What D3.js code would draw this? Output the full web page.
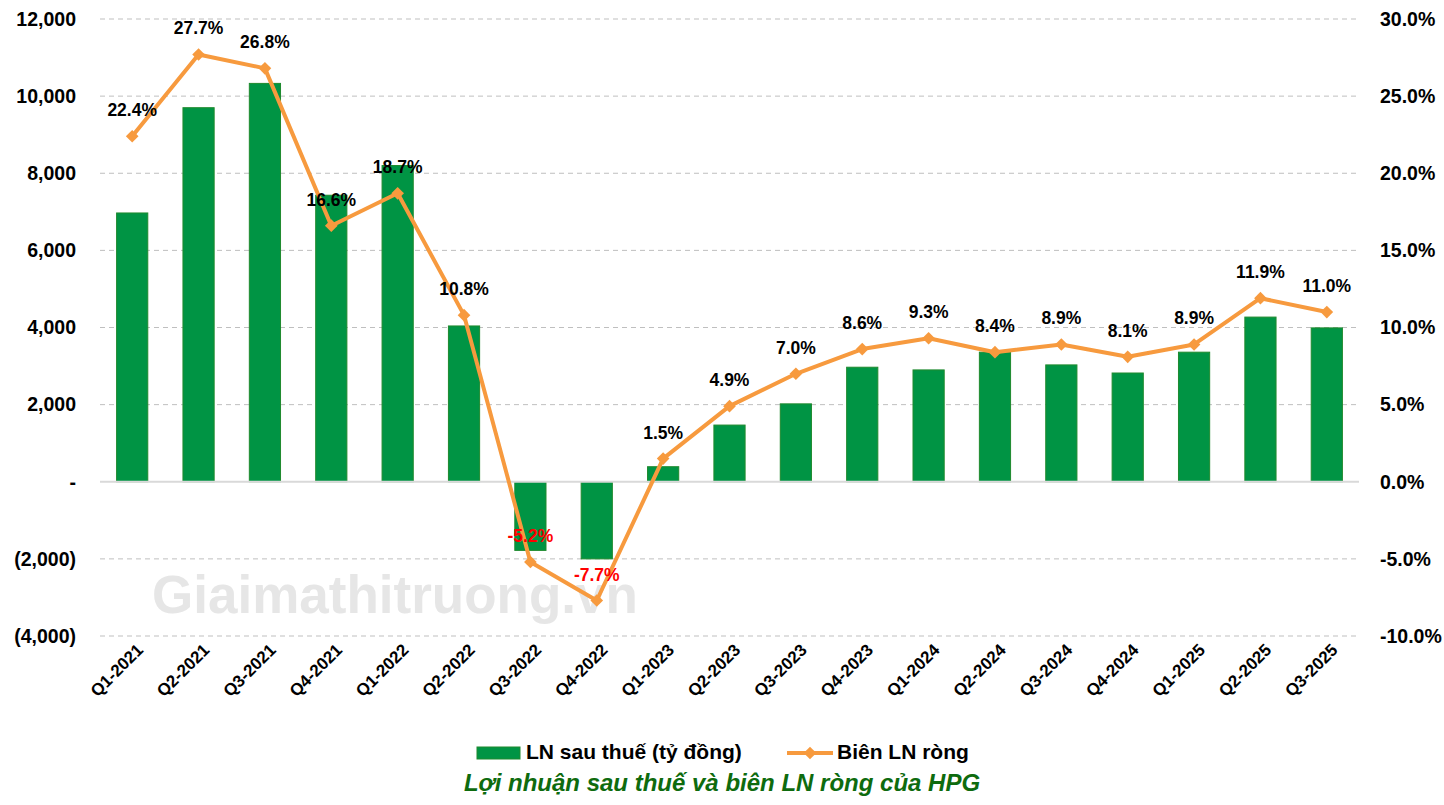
<!DOCTYPE html>
<html lang="vi">
<head>
<meta charset="utf-8" />
<title>HPG</title>
<script src="https://cdnjs.cloudflare.com/ajax/libs/d3/7.8.5/d3.min.js"></script>
<style>
  body { margin: 0; background: #fff; }
  svg text { font-family: "Liberation Sans", Arial, sans-serif; }
</style>
</head>
<body>
<div id="chart"></div>
<script>
// data
var quarters = ["Q1-2021","Q2-2021","Q3-2021","Q4-2021","Q1-2022","Q2-2022","Q3-2022","Q4-2022",
  "Q1-2023","Q2-2023","Q3-2023","Q4-2023","Q1-2024","Q2-2024","Q3-2024","Q4-2024","Q1-2025","Q2-2025","Q3-2025"];
var profit = [6970, 9700, 10330, 7430, 8200, 4040, -1780, -2000, 390, 1470, 2020, 2970, 2900, 3360, 3030, 2820, 3360, 4270, 3990];
var margin = [22.4, 27.7, 26.8, 16.6, 18.7, 10.8, -5.2, -7.7, 1.5, 4.9, 7.0, 8.6, 9.3, 8.4, 8.9, 8.1, 8.9, 11.9, 11.0];
var leftTicks = [-4000, -2000, 0, 2000, 4000, 6000, 8000, 10000, 12000];
var rightTicks = [-10, -5, 0, 5, 10, 15, 20, 25, 30];

var W = 1444, H = 805;
var m = {top: 19, right: 85, bottom: 169, left: 100};
var width = W - m.left - m.right, height = H - m.top - m.bottom;

var svg = d3.select("#chart").append("svg").attr("width", W).attr("height", H);
var g = svg.append("g").attr("transform", "translate(" + m.left + "," + m.top + ")");

var x = d3.scaleBand().domain(quarters).range([0, width]).paddingInner(0.53).paddingOuter(0.25);
var y = d3.scaleLinear().domain([-4000, 12000]).range([height, 0]);
var y2 = d3.scaleLinear().domain([-10, 30]).range([height, 0]);

// watermark
g.append("text")
  .attr("x", 52).attr("y", y(-3000) + 16)
  .attr("font-size", 53).attr("font-weight", "bold")
  .attr("fill", "#e6e6e6")
  .text("Giaimathitruong.vn");

// grid
g.selectAll(".grid").data(leftTicks.filter(function(d){ return d !== 0; }))
  .enter().append("line")
  .attr("x1", 0).attr("x2", width)
  .attr("y1", function(d){ return y(d); }).attr("y2", function(d){ return y(d); })
  .attr("stroke", "#bfbfbf").attr("stroke-dasharray", "5,4").attr("stroke-width", 1);

// bars
g.selectAll(".bar").data(profit).enter().append("rect")
  .attr("x", function(d, i){ return x(quarters[i]); })
  .attr("width", x.bandwidth())
  .attr("y", function(d){ return y(Math.max(0, d)); })
  .attr("height", function(d){ return Math.abs(y(d) - y(0)); })
  .attr("fill", "#009444").attr("stroke", "#1f8a2e").attr("stroke-width", 1);

// zero line
g.append("line").attr("x1", 0).attr("x2", width).attr("y1", y(0)).attr("y2", y(0))
  .attr("stroke", "#d9d9d9").attr("stroke-width", 2);

// left axis
var yAxis = d3.axisLeft(y).tickValues(leftTicks).tickSize(0).tickPadding(24)
  .tickFormat(function(d){
    if (d === 0) return "-";
    var s = d3.format(",")(Math.abs(d));
    return d < 0 ? "(" + s + ")" : s;
  });
g.append("g").call(yAxis).call(function(a){
  a.select(".domain").remove();
  a.selectAll("text").attr("font-size", 19.5).attr("font-weight", "bold").attr("fill", "#000");
});

// right axis
var y2Axis = d3.axisRight(y2).tickValues(rightTicks).tickSize(0).tickPadding(21)
  .tickFormat(function(d){ return d.toFixed(1) + "%"; });
g.append("g").attr("transform", "translate(" + width + ",0)").call(y2Axis).call(function(a){
  a.select(".domain").remove();
  a.selectAll("text").attr("font-size", 19.5).attr("font-weight", "bold").attr("fill", "#000");
});

// x axis
var xAxis = d3.axisBottom(x).tickSize(0).tickPadding(0);
g.append("g").attr("transform", "translate(0," + height + ")").call(xAxis).call(function(a){
  a.select(".domain").remove();
  a.selectAll("text")
    .attr("font-size", 17).attr("font-weight", "bold").attr("fill", "#000")
    .attr("text-anchor", "end").attr("dy", "0")
    .attr("transform", "translate(12,15) rotate(-45)");
});

// margin line
var line = d3.line()
  .x(function(d, i){ return x(quarters[i]) + x.bandwidth() / 2; })
  .y(function(d){ return y2(d); });
g.append("path").datum(margin).attr("d", line)
  .attr("fill", "none").attr("stroke", "#f79a3e").attr("stroke-width", 4).attr("stroke-linejoin", "round");

g.selectAll(".pt").data(margin).enter().append("path")
  .attr("d", d3.symbol(d3.symbolSquare, 80))
  .attr("transform", function(d, i){
    return "translate(" + (x(quarters[i]) + x.bandwidth() / 2) + "," + y2(d) + ") rotate(45)";
  })
  .attr("fill", "#f79a3e");

g.selectAll(".lbl").data(margin).enter().append("text")
  .attr("x", function(d, i){ return x(quarters[i]) + x.bandwidth() / 2; })
  .attr("y", function(d){ return y2(d) - 20; })
  .attr("text-anchor", "middle")
  .attr("font-size", 17.5).attr("font-weight", "bold")
  .attr("fill", function(d){ return d < 0 ? "#ff0000" : "#000"; })
  .text(function(d){ return d.toFixed(1) + "%"; });

// legend
var lg = svg.append("g").attr("transform", "translate(0,759)");
lg.append("rect").attr("x", 477).attr("y", -12).attr("width", 43).attr("height", 12)
  .attr("fill", "#009444").attr("stroke", "#1f8a2e");
lg.append("text").attr("x", 526).attr("y", 0).attr("font-size", 21).attr("font-weight", "bold").text("LN sau thuế (tỷ đồng)");
lg.append("line").attr("x1", 787).attr("x2", 833).attr("y1", -6).attr("y2", -6)
  .attr("stroke", "#f79a3e").attr("stroke-width", 4);
lg.append("path").attr("d", d3.symbol(d3.symbolSquare, 80))
  .attr("transform", "translate(810,-6) rotate(45)").attr("fill", "#f79a3e");
lg.append("text").attr("x", 837).attr("y", 0).attr("font-size", 21).attr("font-weight", "bold").text("Biên LN ròng");

svg.append("text").attr("x", 722).attr("y", 791).attr("text-anchor", "middle")
  .attr("font-size", 24).attr("font-weight", "bold").attr("font-style", "italic")
  .attr("fill", "#0e6b0e")
  .text("Lợi nhuận sau thuế và biên LN ròng của HPG");
</script>
</body>
</html>
